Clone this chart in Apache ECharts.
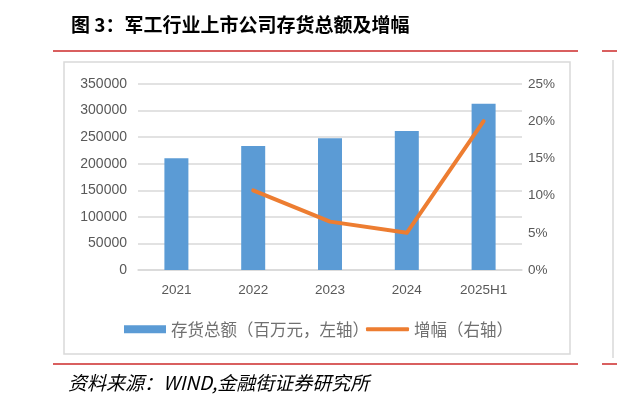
<!DOCTYPE html>
<html>
<head>
<meta charset="utf-8">
<script src="https://cdn.jsdelivr.net/npm/echarts@6/dist/echarts.min.js"></script>
<style>
html,body{margin:0;padding:0;background:#fff;}
#main{width:617px;height:401px;}
</style>
</head>
<body>
<div id="main"></div>
<script>
var categories = ['2021', '2022', '2023', '2024', '2025H1'];
var inventory = [210200, 233400, 247800, 261600, 313000];
var growth = [null, 10.7, 6.5, 5.0, 20.0];
var leftTicks = {min: 0, max: 350000, interval: 50000};
var rightTicks = {min: 0, max: 25, interval: 5};

var cjk = '"Noto Sans CJK SC", sans-serif';
var latin = '"Liberation Sans", Arial, sans-serif';
var legendText = {fontFamily: cjk, fontSize: 16.5, color: '#707070'};

var myChart = echarts.init(document.getElementById('main'));
var option = {
	backgroundColor: '#fff',
	animation: false,
	title: [
		{
			text: '图 3：军工行业上市公司存货总额及增幅',
			left: 66, top: 10,
			textStyle: {fontFamily: cjk, fontSize: 19, fontWeight: 'bold', color: '#000'}
		},
		{
			text: '资料来源：WIND,金融街证券研究所',
			left: 63, top: 368,
			textStyle: {fontFamily: cjk, fontSize: 19, fontStyle: 'italic', fontWeight: 'normal', color: '#000'}
		}
	],
	graphic: [
		{type: 'line', shape: {x1: 53, y1: 51, x2: 578, y2: 51}, style: {stroke: '#cc2a2a', lineWidth: 1.5}},
		{type: 'line', shape: {x1: 53, y1: 364, x2: 578, y2: 364}, style: {stroke: '#cc2a2a', lineWidth: 1.5}},
		{type: 'line', shape: {x1: 602, y1: 51, x2: 617, y2: 51}, style: {stroke: '#cc2a2a', lineWidth: 1.5}},
		{type: 'line', shape: {x1: 602, y1: 364, x2: 617, y2: 364}, style: {stroke: '#cc2a2a', lineWidth: 1.5}},
		{type: 'rect', shape: {x: 64, y: 62, width: 506, height: 292}, style: {fill: 'none', stroke: '#d9d9d9', lineWidth: 1.5}},
		{type: 'line', shape: {x1: 613, y1: 60, x2: 613, y2: 358}, style: {stroke: '#d9d9d9', lineWidth: 1.5}}
	],
	legend: [
		{
			left: 124, top: 321, padding: 0,
			itemWidth: 42, itemHeight: 8, itemGap: 0,
			textStyle: legendText,
			data: [{name: '存货总额（百万元，左轴）', icon: 'rect'}]
		},
		{
			left: 366, top: 321, padding: 0,
			itemWidth: 43, itemHeight: 4, itemGap: 0,
			textStyle: legendText,
			data: [{name: '增幅（右轴）', icon: 'roundRect'}]
		}
	],
	grid: {left: 138, right: 95, top: 84, bottom: 131},
	xAxis: {
		type: 'category',
		data: categories,
		axisTick: {show: false},
		axisLine: {lineStyle: {color: '#d9d9d9', width: 1.5}},
		axisLabel: {fontFamily: latin, fontSize: 13.5, color: '#595959', margin: 13}
	},
	yAxis: [
		{
			type: 'value',
			min: leftTicks.min, max: leftTicks.max, interval: leftTicks.interval,
			axisLine: {show: false}, axisTick: {show: false},
			splitLine: {lineStyle: {color: '#d9d9d9', width: 1.5}},
			axisLabel: {fontFamily: latin, fontSize: 14, color: '#595959', margin: 11,
				formatter: function (v) { return String(v); }}
		},
		{
			type: 'value',
			min: rightTicks.min, max: rightTicks.max, interval: rightTicks.interval,
			axisLine: {show: false}, axisTick: {show: false},
			splitLine: {show: false},
			axisLabel: {fontFamily: latin, fontSize: 13.5, color: '#595959', margin: 6, formatter: '{value}%'}
		}
	],
	series: [
		{
			name: '存货总额（百万元，左轴）',
			type: 'bar',
			data: inventory,
			barWidth: 24,
			itemStyle: {color: '#5b9bd5'}
		},
		{
			name: '增幅（右轴）',
			type: 'line',
			yAxisIndex: 1,
			data: growth,
			symbol: 'none',
			itemStyle: {color: '#ed7d31'},
			lineStyle: {color: '#ed7d31', width: 4, cap: 'round', join: 'round'}
		}
	]
};
myChart.setOption(option);
</script>
</body>
</html>
